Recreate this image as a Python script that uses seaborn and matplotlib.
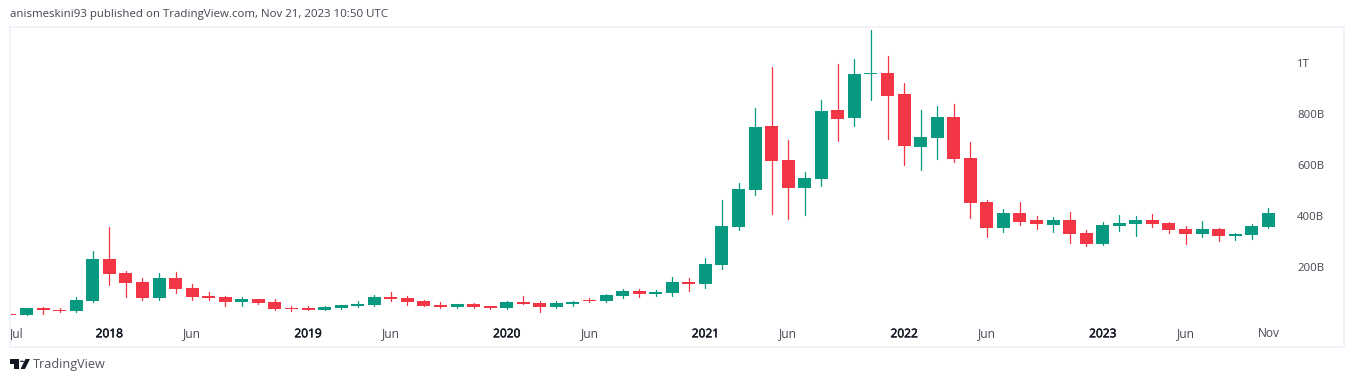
import numpy as np
import pandas as pd
import matplotlib.pyplot as plt
import matplotlib.patheffects as pe
from matplotlib.patches import Polygon, Circle
import seaborn as sns

# monthly candles in billions, Jul 2017 to Nov 2023
opens = [16, 12, 40, 33, 27, 67, 231, 176, 141, 78, 157, 118, 86, 82, 63, 74, 63, 39, 39, 31,
         39, 47, 51, 82, 78, 67, 51, 43, 55, 47, 39, 63, 59, 43, 55, 71, 67, 86, 106, 94,
         98, 141, 133, 208, 357, 502, 753, 619, 510, 545, 815, 784, 956, 960, 878, 670, 706, 788, 627, 455,
         353, 412, 384, 365, 384, 333, 290, 361, 368, 384, 372, 349, 329, 349, 321, 325, 357]
highs = [16, 39, 43, 40, 82, 263, 357, 184, 157, 176, 180, 133, 102, 86, 82, 74, 74, 47, 47, 47,
         51, 67, 90, 102, 86, 71, 63, 55, 59, 47, 67, 86, 67, 67, 67, 78, 94, 114, 114, 110,
         161, 157, 235, 463, 529, 823, 984, 698, 572, 855, 996, 1015, 1129, 1027, 921, 815, 831, 839, 690, 463,
         427, 455, 400, 396, 416, 345, 376, 404, 400, 408, 376, 361, 380, 353, 333, 368, 431]
lows = [13, 12, 17, 25, 24, 63, 129, 82, 71, 72, 98, 71, 71, 47, 47, 55, 31, 27, 31, 31,
        35, 43, 47, 67, 51, 47, 39, 39, 39, 35, 35, 55, 24, 39, 47, 63, 63, 78, 82, 86,
        86, 106, 118, 192, 345, 482, 408, 388, 404, 517, 694, 753, 855, 702, 600, 580, 623, 612, 392, 318,
        337, 365, 349, 337, 294, 282, 286, 341, 321, 357, 333, 290, 318, 302, 306, 310, 353]
closes = [13, 39, 31, 27, 71, 231, 172, 137, 78, 157, 114, 82, 78, 63, 74, 59, 35, 35, 31, 43,
          51, 55, 82, 74, 63, 47, 43, 55, 43, 39, 63, 55, 43, 59, 63, 67, 90, 106, 94, 102,
          141, 133, 212, 361, 506, 749, 615, 510, 549, 811, 780, 956, 960, 870, 674, 710, 788, 623, 451, 353,
          412, 376, 368, 384, 329, 290, 365, 372, 384, 368, 345, 329, 349, 321, 329, 361, 412]

tick_months = ["2017-07", "2018-01", "2018-06", "2019-01", "2019-06", "2020-01", "2020-06", "2021-01",
               "2021-06", "2022-01", "2022-06", "2023-01", "2023-06", "2023-11"]
tick_names = ["Jul", "2018", "Jun", "2019", "Jun", "2020", "Jun", "2021",
              "Jun", "2022", "Jun", "2023", "Jun", "Nov"]
price_ticks = [200, 400, 600, 800, 1000]
price_names = ["200B", "400B", "600B", "800B", "1T"]

GREEN = "#089981"
RED = "#F23645"
BORDER = "#F0F3FA"
W, H = 1354, 382

sns.set_style("white")
plt.rcParams["font.family"] = ["Open Sans", "DejaVu Sans"]

df = pd.DataFrame({"open": opens, "high": highs, "low": lows, "close": closes})
df["month"] = pd.date_range("2017-07-01", periods=len(df), freq="MS").strftime("%Y-%m")
df["i"] = np.arange(len(df))
df["body_low"] = df[["open", "close"]].min(axis=1)
df["body_h"] = (df["close"] - df["open"]).abs()
df["up"] = df["close"] >= df["open"]

fig = plt.figure(figsize=(W / 100, H / 100), dpi=100)
ax = fig.add_axes([10 / W, 1 - 347 / H, 1334 / W, 320 / H])

for is_up, col in [(True, GREEN), (False, RED)]:
    sub = df[df["up"] == is_up]
    wicks = sub.melt(id_vars="i", value_vars=["high", "low"], value_name="price")
    sns.lineplot(data=wicks, x="i", y="price", units="i", estimator=None, color=col,
                 lw=0.9, ax=ax, legend=False)
    sns.barplot(data=sub, x="i", y="body_h", bottom=sub["body_low"].values, native_scale=True,
                color=col, saturation=1, width=0.785, errorbar=None, ax=ax, linewidth=0)

ax.set_xlim(0.016, 80.57)
ax.set_ylim(-113.7, 1140.7)
ax.set_xlabel("")
ax.set_ylabel("")

pos = [df.loc[df["month"] == m, "i"].iloc[0] for m in tick_months]
ax.set_xticks(pos)
ax.set_xticklabels(tick_names)
ax.tick_params(axis="x", length=0, pad=-14.2, labelsize=8.6)
for lab, name in zip(ax.get_xticklabels(), tick_names):
    lab.set_color("#131722" if name.isdigit() else "#434651")
    if name.isdigit():
        # no semibold cut installed, a thin stroke gets close
        lab.set_path_effects([pe.withStroke(linewidth=0.35, foreground="#131722")])
ax.get_xticklabels()[0].set_ha("left")

ax.yaxis.tick_right()
ax.set_yticks(price_ticks)
ax.set_yticklabels(price_names)
ax.tick_params(axis="y", length=0, pad=-33.7, labelsize=8.2, labelcolor="#434651")

for s in ax.spines.values():
    s.set_visible(True)
    s.set_color(BORDER)
    s.set_linewidth(1.44)

# header and logo sit outside the pane, placed in pixels
fig.text(10.5 / W, 1 - 15 / H, "anismeskini93 published on TradingView.com, Nov 21, 2023 10:50 UTC",
         fontsize=8.28, color="#434651", va="center")
fig.text(33 / W, 1 - 364.5 / H, "TradingView", fontsize=9.1, color="#50535E", va="center")


def px(points):
    return [(x / W, 1 - y / H) for x, y in points]


fig.add_artist(Polygon(px([(10, 359), (19, 359), (19, 369), (14, 369), (14, 363.5), (10, 363.5)]),
                       transform=fig.transFigure, color="#131722", lw=0))
fig.add_artist(Polygon(px([(25.5, 359), (30, 359), (25, 369), (20.5, 369)]),
                       transform=fig.transFigure, color="#131722", lw=0))
fig.add_artist(Circle((22 / W, 1 - 361.3 / H), 2.2 / W, transform=fig.transFigure, color="#131722", lw=0))

fig.savefig("out.png", dpi=100, facecolor="white")
